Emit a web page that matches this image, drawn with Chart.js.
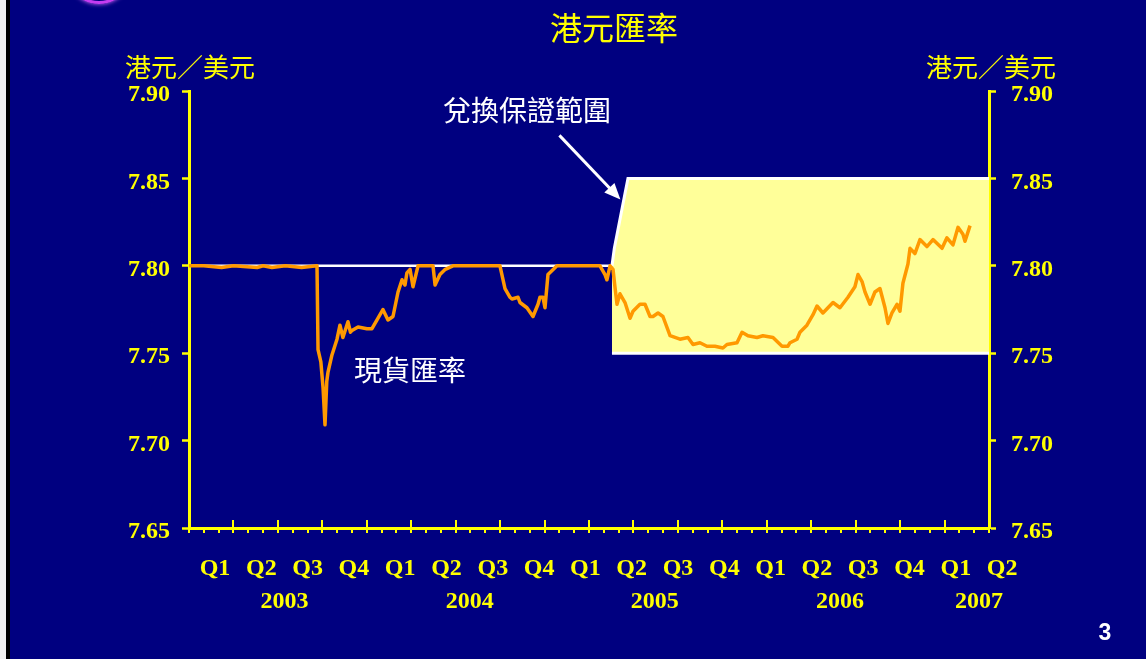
<!DOCTYPE html>
<html>
<head>
<meta charset="utf-8">
<title>港元匯率</title>
<script src="https://cdn.jsdelivr.net/npm/chart.js@4.4.0/dist/chart.umd.min.js"></script>
<style>
  html, body { margin: 0; padding: 0; background: #000080; overflow: hidden; }
  #wrap { position: relative; width: 1146px; height: 659px; }
  #chart { position: absolute; left: 0; top: 0; }
  .edge { position: absolute; left: 0; top: 0; width: 6px; height: 659px; background: #f2f2f2; }
  .edge2 { position: absolute; left: 6px; top: 0; width: 4px; height: 659px; background: #000; }
  .logo { position: absolute; left: 66px; top: -62px; width: 60px; height: 60px;
          border-radius: 50%; border: 3px solid #c43cf0; box-shadow: 0 0 4px #e070ff; }
</style>
</head>
<body>
<div id="wrap">
  <div class="edge"></div>
  <div class="edge2"></div>
  <div class="logo"></div>
  <canvas id="chart" width="1146" height="659"></canvas>
</div>
<script>
// months counted from 1 Jan 2003
const spotMonths = [0, 1.0, 2.2, 3.0, 4.6, 5.0, 5.6, 6.5, 7.6, 8.64, 8.71, 8.9, 9.05, 9.18, 9.3, 9.38, 9.65, 9.99,
  10.19, 10.39, 10.73, 10.9, 11.0, 11.41, 12.01, 12.35, 12.76, 13.09, 13.43, 13.77, 14.11, 14.38, 14.58, 14.71,
  14.92, 15.12, 15.46, 16.47, 16.61, 16.94, 17.3, 17.82, 20.99, 21.33, 21.67, 21.8, 22.21, 22.34, 22.81, 23.22,
  23.56, 23.69, 23.89, 24.03, 24.23, 24.84, 27.07, 27.74, 28.08, 28.21, 28.42, 28.62, 28.75, 28.89, 29.09, 29.43,
  29.77, 29.97, 30.44, 30.78, 31.12, 31.32, 31.66, 31.99, 32.47, 33.14, 33.68, 34.02, 34.49, 34.96, 35.5, 36.04,
  36.31, 36.99, 37.33, 37.73, 38.34, 38.74, 39.42, 40.03, 40.43, 40.57, 41.04, 41.24, 41.71, 42.12, 42.39, 42.79,
  43.47, 43.94, 44.48, 44.95, 45.16, 45.43, 45.63, 45.97, 46.3, 46.64, 46.98, 47.18, 47.45, 47.79, 47.99, 48.19,
  48.53, 48.67, 49.0, 49.34, 49.81, 50.22, 50.83, 51.16, 51.57, 51.91, 52.24, 52.38, 52.72];
const spotRate = [7.800, 7.800, 7.799, 7.800, 7.799, 7.800, 7.799, 7.800, 7.799, 7.800, 7.752, 7.745, 7.730, 7.709,
  7.734, 7.739, 7.749, 7.758, 7.766, 7.759, 7.768, 7.762, 7.763, 7.765, 7.764, 7.764, 7.770, 7.775, 7.769, 7.771,
  7.785, 7.792, 7.789, 7.796, 7.798, 7.788, 7.800, 7.800, 7.789, 7.795, 7.798, 7.800, 7.800, 7.787, 7.782, 7.781,
  7.782, 7.779, 7.776, 7.771, 7.778, 7.782, 7.782, 7.776, 7.795, 7.800, 7.800, 7.800, 7.795, 7.792, 7.800, 7.798,
  7.788, 7.778, 7.784, 7.779, 7.770, 7.774, 7.778, 7.778, 7.771, 7.771, 7.773, 7.771, 7.760, 7.758, 7.759, 7.755,
  7.756, 7.754, 7.754, 7.753, 7.755, 7.756, 7.762, 7.760, 7.759, 7.760, 7.759, 7.754, 7.754, 7.756, 7.758, 7.762,
  7.766, 7.772, 7.777, 7.773, 7.779, 7.776, 7.782, 7.788, 7.795, 7.791, 7.785, 7.778, 7.785, 7.787, 7.776, 7.767,
  7.773, 7.778, 7.774, 7.790, 7.801, 7.810, 7.807, 7.815, 7.811, 7.815, 7.810, 7.816, 7.812, 7.822, 7.818, 7.814,
  7.823];

// convertibility undertakings
const weakSideMonths = [0, 28.55];
const weakSideRate = [7.80, 7.80];
const bandTopMonths = [28.55, 28.71, 28.94, 29.17, 29.40, 29.63, 54];
const bandTopRate = [7.80, 7.81, 7.82, 7.83, 7.84, 7.85, 7.85];
const bandBottomMonths = [28.55, 54];
const bandBottomRate = [7.75, 7.75];

const quarterLabels = ['Q1', 'Q2', 'Q3', 'Q4', 'Q1', 'Q2', 'Q3', 'Q4', 'Q1', 'Q2', 'Q3', 'Q4',
  'Q1', 'Q2', 'Q3', 'Q4', 'Q1', 'Q2'];
const quarterYears = ['2003', '2003', '2003', '2003', '2004', '2004', '2004', '2004', '2005', '2005', '2005', '2005',
  '2006', '2006', '2006', '2006', '2007', '2007'];
const yearLabels = ['2003', '2004', '2005', '2006', '2007'];

const YELLOW = '#ffff00';
const serif = '"Liberation Serif", "Times New Roman", serif';
const cjk = '"Noto Sans CJK TC", "Noto Sans CJK SC", sans-serif';

const pts = (xs, ys) => xs.map((x, i) => ({ x: x, y: ys[i] }));

// year label sits in the middle of its quarters
const yearPos = yearLabels.map(y => {
  const idx = quarterYears.map((q, i) => q === y ? i : -1).filter(i => i >= 0);
  return idx.reduce((a, b) => a + b, 0) / idx.length;
});

const slideDecor = {
  id: 'slideDecor',
  afterDraw(chart) {
    const { ctx, chartArea, scales } = chart;
    const x = scales.x, y = scales.y;
    ctx.save();
    // month / quarter tick marks on the time axis
    ctx.strokeStyle = YELLOW;
    ctx.lineWidth = 2;
    for (let m = 0; m <= 54; m++) {
      const px = Math.round(x.getPixelForValue(m));
      ctx.beginPath();
      ctx.moveTo(px, chartArea.bottom + 5);
      ctx.lineTo(px, m % 3 === 0 ? chartArea.bottom - 8 : chartArea.bottom);
      ctx.stroke();
    }

    ctx.textAlign = 'center';
    ctx.textBaseline = 'middle';
    ctx.fillStyle = YELLOW;
    ctx.font = '32px ' + cjk;
    ctx.fillText('港元匯率', 614, 28);
    ctx.font = '26px ' + cjk;
    ctx.fillText('港元／美元', 190, 67);
    ctx.fillText('港元／美元', 991, 67);

    ctx.fillStyle = '#ffffff';
    ctx.font = '28px ' + cjk;
    ctx.fillText('兌換保證範圍', 527, 110);
    ctx.fillText('現貨匯率', 410, 370);

    ctx.font = 'bold 23px "Liberation Sans", Arial, sans-serif';
    ctx.fillText('3', 1105, 634);

    // arrow to the band
    const tx = x.getPixelForValue(29.12), ty = y.getPixelForValue(7.838);
    const sx = tx - 61, sy = ty - 64;
    const ang = Math.atan2(ty - sy, tx - sx);
    ctx.strokeStyle = '#ffffff';
    ctx.lineWidth = 3;
    ctx.beginPath();
    ctx.moveTo(sx, sy);
    ctx.lineTo(tx - 12 * Math.cos(ang), ty - 12 * Math.sin(ang));
    ctx.stroke();
    ctx.beginPath();
    ctx.moveTo(tx, ty);
    ctx.lineTo(tx - 16 * Math.cos(ang) + 7 * Math.sin(ang), ty - 16 * Math.sin(ang) - 7 * Math.cos(ang));
    ctx.lineTo(tx - 16 * Math.cos(ang) - 7 * Math.sin(ang), ty - 16 * Math.sin(ang) + 7 * Math.cos(ang));
    ctx.closePath();
    ctx.fillStyle = '#ffffff';
    ctx.fill();
    ctx.restore();
  }
};

const yAxis = (pos, pad, width) => ({
  type: 'linear',
  position: pos,
  min: 7.65,
  max: 7.90,
  ticks: {
    stepSize: 0.05,
    color: YELLOW,
    padding: pad,
    labelOffset: 4,
    font: { family: serif, size: 24, weight: 'bold' },
    callback: v => v.toFixed(2)
  },
  grid: { drawOnChartArea: false, drawTicks: true, tickLength: 7, tickColor: YELLOW, tickWidth: 2.5, color: YELLOW },
  border: { color: YELLOW, width: 3 },
  afterFit: s => { s.width = width; }
});

const labelAxis = (weight, pad, height, positions, labels) => ({
  type: 'linear',
  position: 'bottom',
  weight: weight,
  min: -0.5616,
  max: 16.717,
  afterBuildTicks: s => { s.ticks = positions.map(v => ({ value: v })); },
  ticks: {
    autoSkip: false,
    maxRotation: 0,
    color: YELLOW,
    padding: pad,
    font: { family: serif, size: 24, weight: 'bold' },
    callback: (v, i) => labels[i]
  },
  grid: { display: false, drawTicks: false },
  border: { display: false },
  afterFit: s => { s.height = height; }
});

new Chart(document.getElementById('chart'), {
  type: 'line',
  data: {
    datasets: [
      {
        label: '現貨匯率',
        data: pts(spotMonths, spotRate),
        xAxisID: 'x', yAxisID: 'y',
        borderColor: '#ff9900',
        borderWidth: 3.5,
        borderJoinStyle: 'round',
        pointRadius: 0,
        tension: 0,
        fill: false,
        order: 0
      },
      {
        label: '弱方兌換保證',
        data: pts(weakSideMonths, weakSideRate),
        xAxisID: 'x', yAxisID: 'y',
        borderColor: '#ffffff',
        borderWidth: 2.5,
        pointRadius: 0,
        fill: false,
        order: 1
      },
      {
        label: '兌換保證範圍',
        data: pts(bandTopMonths, bandTopRate),
        xAxisID: 'x', yAxisID: 'y',
        borderColor: '#ffffff',
        borderWidth: 3,
        backgroundColor: '#ffff99',
        pointRadius: 0,
        fill: 3,
        order: 3
      },
      {
        label: '強方兌換保證',
        data: pts(bandBottomMonths, bandBottomRate),
        xAxisID: 'x', yAxisID: 'y',
        borderColor: '#ffffff',
        borderWidth: 3,
        pointRadius: 0,
        fill: false,
        order: 2
      }
    ]
  },
  options: {
    responsive: false,
    animation: false,
    events: [],
    layout: { padding: { top: 91, left: 0, right: 0, bottom: 0 } },
    plugins: { legend: { display: false }, tooltip: { enabled: false }, title: { display: false } },
    scales: {
      x: {
        type: 'linear',
        position: 'bottom',
        weight: 0,
        min: 0,
        max: 54,
        ticks: { display: false },
        grid: { display: false, drawTicks: false },
        border: { color: YELLOW, width: 3 },
        afterFit: s => { s.height = 4; }
      },
      xq: labelAxis(1, 22, 50, quarterLabels.map((q, i) => i), quarterLabels),
      xy: labelAxis(2, 5, 77, yearPos, yearLabels),
      y: yAxis('left', 12, 189),
      y2: yAxis('right', 15, 157)
    }
  },
  plugins: [slideDecor]
});
</script>
</body>
</html>
